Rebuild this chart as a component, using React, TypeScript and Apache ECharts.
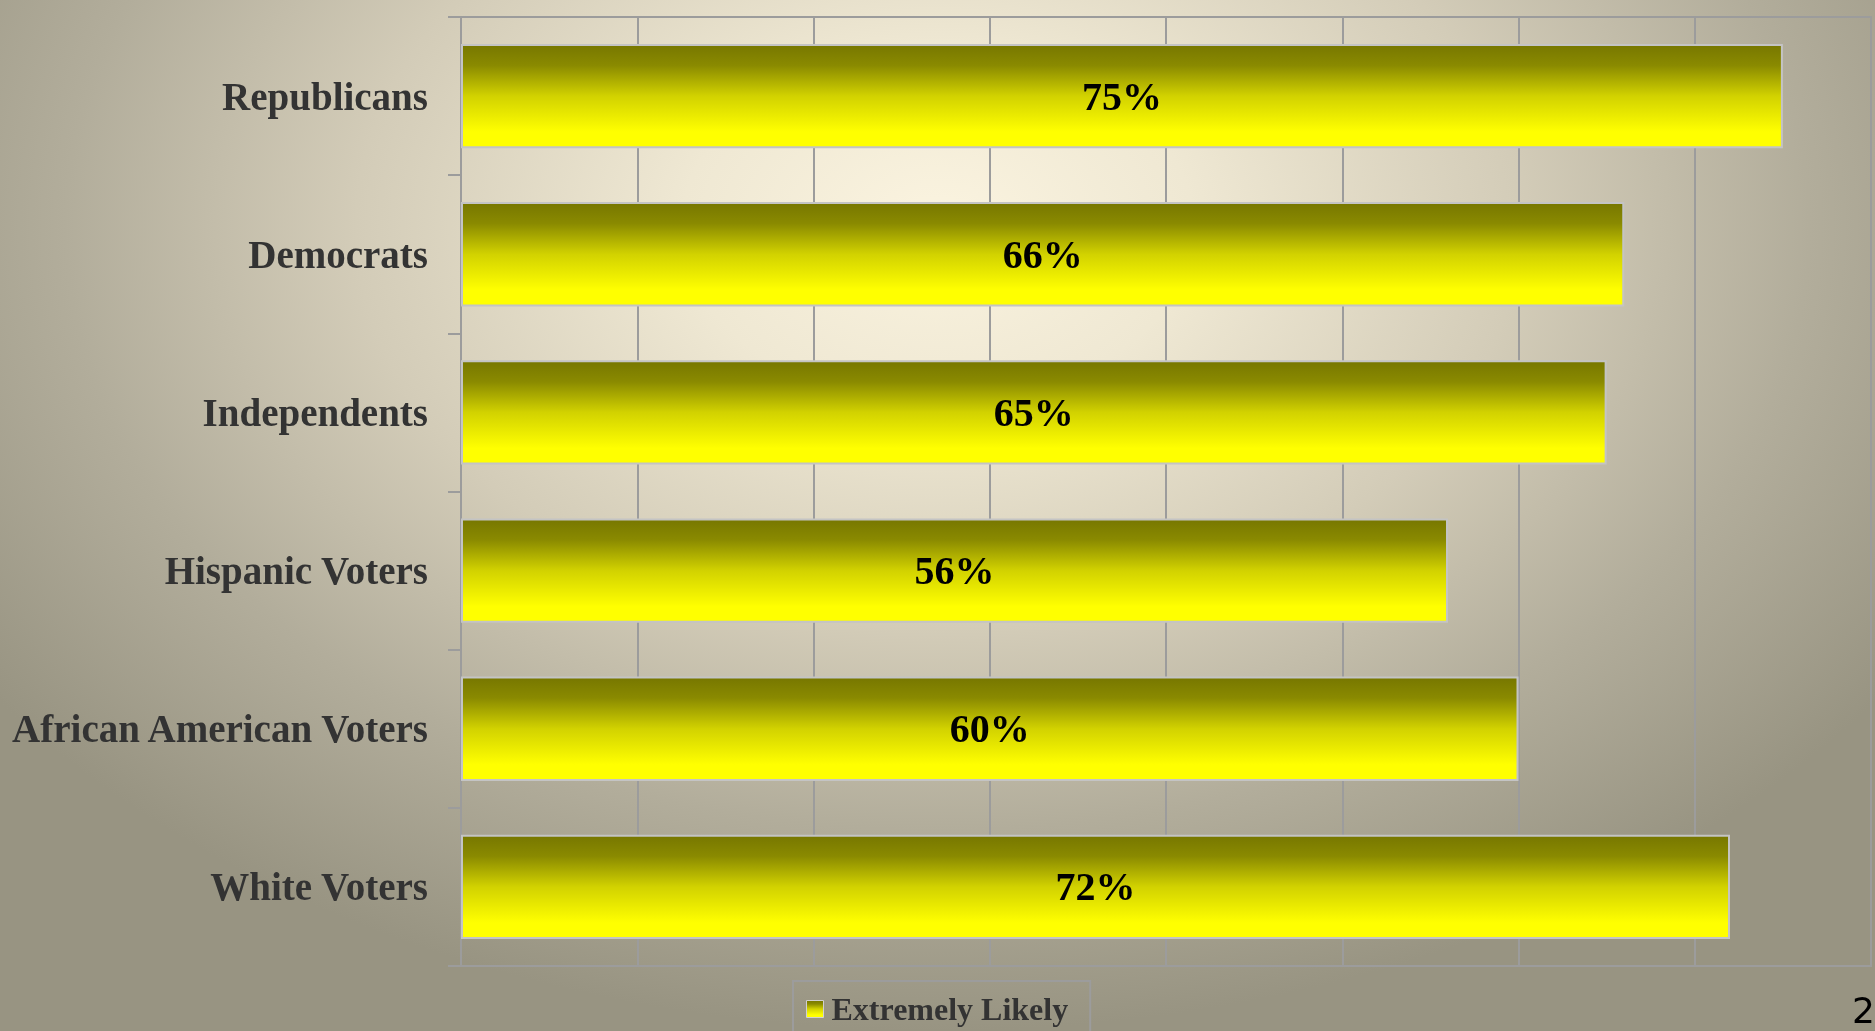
import React, { useEffect, useRef } from "react";
import * as echarts from "echarts";

const categories = [
  "Republicans",
  "Democrats",
  "Independents",
  "Hispanic Voters",
  "African American Voters",
  "White Voters",
];
const extremelyLikely = [75, 66, 65, 56, 60, 72];
const seriesName = "Extremely Likely";
const axisMax = 80;
const axisInterval = 10;
const pageNumber = "2";

export default function App() {
  const ref = useRef<HTMLDivElement>(null);
  useEffect(() => {
    if (!ref.current) return;
    const chart = echarts.init(ref.current, undefined, { renderer: "svg" });
    const barGradient = new echarts.graphic.LinearGradient(0, 0, 0, 1, [
      { offset: 0, color: "#777700" },
      { offset: 0.2, color: "#8a8a00" },
      { offset: 0.5, color: "#d2d200" },
      { offset: 0.85, color: "#ffff00" },
      { offset: 1, color: "#ffff00" },
    ]);
    chart.setOption({
      animation: false,
      backgroundColor: "transparent",
      grid: {
        left: 461,
        top: 17,
        right: 4,
        bottom: 65,
        show: true,
        borderColor: "#9c9c9c",
        borderWidth: 2,
        backgroundColor: "transparent",
      },
      xAxis: {
        type: "value",
        min: 0,
        max: axisMax,
        interval: axisInterval,
        axisLabel: { show: false },
        axisTick: { show: false },
        axisLine: { show: true, lineStyle: { color: "#9c9c9c", width: 2 } },
        splitLine: { show: true, lineStyle: { color: "#9c9c9c", width: 2 } },
      },
      yAxis: {
        type: "category",
        data: categories,
        inverse: true,
        axisLine: { show: true, lineStyle: { color: "#9c9c9c", width: 2 } },
        axisTick: { show: true, length: 13, lineStyle: { color: "#9c9c9c", width: 2 } },
        axisLabel: {
          margin: 33,
          color: "#333333",
          fontFamily: "Liberation Serif",
          fontWeight: "bold",
          fontSize: 39,
        },
        splitLine: { show: false },
      },
      legend: {
        data: [seriesName],
        left: 793,
        top: 981,
        orient: "horizontal",
        padding: [12, 22, 12, 13],
        borderColor: "#9c9c9c",
        borderWidth: 2,
        itemWidth: 17,
        itemHeight: 17,
        itemGap: 10,
        icon: "rect",
        itemStyle: { borderColor: "#d0d0d0", borderWidth: 1 },
        textStyle: {
          color: "#333333",
          fontFamily: "Liberation Serif",
          fontWeight: "bold",
          fontSize: 32,
          padding: [0, 0, 0, 3],
        },
      },
      graphic: [
        {
          type: "text",
          right: 0,
          top: 992,
          style: {
            text: pageNumber,
            fill: "#000000",
            font: "36px 'DejaVu Sans'",
          },
        },
      ],
      series: [
        {
          name: seriesName,
          type: "bar",
          data: extremelyLikely,
          barCategoryGap: "34%",
          itemStyle: {
            color: barGradient,
            borderColor: "#c4c4c4",
            borderWidth: 2,
          },
          label: {
            show: true,
            position: "inside",
            formatter: "{c}%",
            color: "#000000",
            fontFamily: "Liberation Serif",
            fontWeight: "bold",
            fontSize: 40,
          },
        },
      ],
    });
    return () => chart.dispose();
  }, []);
  return (
    <div
      ref={ref}
      style={{
        position: "fixed",
        left: 0,
        top: 0,
        width: 1875,
        height: 1031,
        background:
          "radial-gradient(ellipse 62% 78% at 50% 22%, #fbf4e0 0%, #efe8d3 22%, #d3ccb8 50%, #b2ad9b 75%, #989482 100%)",
      }}
    />
  );
}
